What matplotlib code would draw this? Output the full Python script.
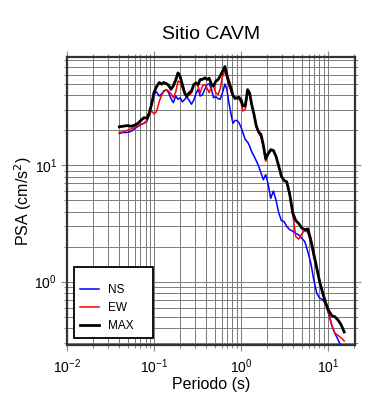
import matplotlib
matplotlib.use("Agg")
import matplotlib.pyplot as plt
from matplotlib.ticker import LogLocator, NullFormatter, FixedLocator, FixedFormatter
from matplotlib.patches import Rectangle

plt.rcParams['font.family'] = ['Liberation Sans', 'DejaVu Sans']

title = "Sitio CAVM"
xlabel = "Periodo (s)"
ylabel = "PSA (cm/s$^2$)"
series_names = ["NS", "EW", "MAX"]
series_colors = ["#0000ff", "#ff0000", "#000000"]

periods = [0.040, 0.044, 0.049, 0.055, 0.060, 0.066, 0.072, 0.077, 0.083, 0.088,
           0.094, 0.100, 0.107, 0.115, 0.123, 0.129, 0.138, 0.146, 0.157, 0.167,
           0.178, 0.189, 0.200, 0.212, 0.226, 0.238, 0.253, 0.270, 0.287, 0.305,
           0.322, 0.340, 0.361, 0.384, 0.409, 0.431, 0.459, 0.484, 0.515, 0.547,
           0.578, 0.614, 0.654, 0.689, 0.727, 0.767, 0.809, 0.853, 0.899, 0.948,
           1.000, 1.055, 1.122, 1.194, 1.259, 1.328, 1.413, 1.503, 1.599, 1.701,
           1.810, 1.925, 2.048, 2.199, 2.361, 2.535, 2.722, 2.920, 3.135, 3.366,
           3.645, 3.945, 4.272, 4.627, 5.012, 5.428, 5.878, 6.366, 6.894, 7.466,
           8.085, 8.756, 9.482, 10.27, 11.12, 12.04, 13.04, 14.12, 15.43]

psa_ns = [18.8, 19.1, 19.1, 19.6, 20.6, 21.6, 22.5, 22.9, 23.8, 26.8,
          34.5, 40.6, 42.6, 39.3, 41.1, 43.3, 44.6, 42.6, 37.3, 34.5,
          39.3, 36.8, 38.0, 35.0, 36.8, 38.5, 36.3, 33.4, 36.3, 41.4,
          44.9, 39.3, 40.3, 44.9, 49.3, 50.0, 44.9, 38.0, 38.8, 37.3,
          36.8, 42.0, 49.7, 44.9, 34.5, 27.9, 22.9, 24.2, 24.2, 23.2,
          21.3, 19.0, 16.6, 15.8, 14.6, 13.1, 12.0, 10.9, 9.8, 8.6,
          7.5, 8.3, 7.0, 5.2, 6.0, 5.0, 3.9, 3.35, 3.28, 2.98,
          2.79, 2.72, 2.60, 2.52, 2.36, 2.21, 1.81, 1.44, 1.03, 0.79,
          0.72, 0.70, 0.63, 0.52, 0.42, 0.36, 0.32, 0.28, 0.24]

psa_ew = [19.2, 19.3, 19.9, 20.6, 21.1, 21.9, 22.6, 23.0, 24.2, 27.4,
          29.2, 27.6, 28.9, 35.2, 40.3, 42.6, 44.6, 43.6, 41.1, 38.0,
          42.6, 52.9, 51.6, 45.9, 40.3, 39.0, 40.0, 41.7, 48.7, 50.6,
          47.3, 41.7, 48.0, 49.3, 45.8, 42.0, 47.3, 47.3, 41.7, 40.6,
          45.5, 57.8, 64.3, 56.3, 48.0, 43.3, 39.3, 36.8, 37.3, 36.8,
          34.5, 29.2, 30.2, 42.6, 40.6, 32.7, 26.8, 21.3, 18.8, 17.5,
          14.3, 10.8, 12.3, 13.4, 13.2, 11.8, 9.9, 8.0, 7.4, 7.1,
          5.5, 3.8, 2.44, 2.32, 2.58, 2.75, 2.65, 2.17, 1.59, 1.30,
          1.00, 0.79, 0.63, 0.53, 0.42, 0.36, 0.347, 0.33, 0.31]

psa_max = [21.4, 21.6, 21.9, 21.6, 22.1, 23.0, 24.6, 25.6, 25.3, 27.9,
           33.4, 42.0, 47.3, 51.3, 49.7, 51.3, 50.2, 49.0, 44.9, 48.0,
           54.1, 62.1, 57.8, 49.3, 41.7, 39.0, 41.7, 43.3, 49.3, 50.9,
           49.3, 54.5, 54.5, 56.3, 54.5, 55.9, 49.3, 48.0, 52.7, 54.5,
           58.5, 64.0, 70.4, 59.7, 52.0, 46.2, 39.8, 37.7, 38.0, 38.3,
           36.8, 32.3, 32.3, 44.6, 41.7, 33.4, 27.4, 21.7, 19.3, 18.4,
           14.9, 11.4, 12.5, 13.6, 13.4, 11.9, 9.8, 8.04, 7.4, 7.2,
           5.6, 3.88, 3.35, 3.15, 2.89, 2.79, 2.84, 2.28, 1.73, 1.30,
           0.98, 0.79, 0.65, 0.56, 0.51, 0.50, 0.47, 0.43, 0.37]

xticks = [0.01, 0.1, 1, 10]
xticklabels = ["$\\mathregular{10^{-2}}$", "$\\mathregular{10^{-1}}$",
               "$\\mathregular{10^{0}}$", "$\\mathregular{10^{1}}$"]
yticks = [1, 10]
yticklabels = ["$\\mathregular{10^{0}}$", "$\\mathregular{10^{1}}$"]
xlim = (0.01, 20.5)
ylim = (0.286, 85)

fig = plt.figure(figsize=(3.9, 4.0), dpi=100)
ax = fig.add_axes([67/390, 55/400, 288/390, 288/400])
ax.set_xscale('log')
ax.set_yscale('log')
ax.set_xlim(*xlim)
ax.set_ylim(*ylim)

widths = [1.1, 1.1, 2.0]
lines = []
for vals, name, col, lw in zip([psa_ns, psa_ew, psa_max], series_names, series_colors, widths):
    ln, = ax.plot(periods, vals, color=col, lw=lw, label=name, zorder=3)
    lines.append(ln)

ax.xaxis.set_major_locator(FixedLocator(xticks))
ax.xaxis.set_major_formatter(FixedFormatter(xticklabels))
ax.yaxis.set_major_locator(FixedLocator(yticks))
ax.yaxis.set_major_formatter(FixedFormatter(yticklabels))
ax.xaxis.set_minor_locator(LogLocator(base=10, subs=range(2, 10), numticks=20))
ax.yaxis.set_minor_locator(LogLocator(base=10, subs=range(2, 10), numticks=20))
ax.xaxis.set_minor_formatter(NullFormatter())
ax.yaxis.set_minor_formatter(NullFormatter())

ax.grid(True, which='both', color='#7a7a7a', lw=0.7)
ax.set_axisbelow(True)
ax.tick_params(which='both', direction='out', top=True, right=True,
               color='#8a8a8a', width=0.8, labelsize=10)
ax.tick_params(which='major', length=4.2)
ax.tick_params(which='minor', length=2.4)
ax.tick_params(axis='x', pad=5)
ax.tick_params(axis='y', pad=3)
for sp in ax.spines.values():
    sp.set_linewidth(1.6)
    sp.set_color('#333333')

ax.set_title(title, fontsize=14, pad=13)
ax.set_xlabel(xlabel, fontsize=11.5, labelpad=0.5)
ax.set_ylabel(ylabel, fontsize=11.5, labelpad=0.5)

rect = Rectangle((7/288, 7/288), 79/288, 71/288, transform=ax.transAxes,
                 facecolor='white', edgecolor='black', lw=1.3, zorder=5)
ax.add_patch(rect)
leg = ax.legend(handles=lines, loc='upper left', bbox_to_anchor=(13/288, 61/288),
                frameon=False, fontsize=8.5, handlelength=1.6, handletextpad=0.8,
                labelspacing=0.5, borderpad=0, borderaxespad=0)
leg.set_zorder(6)

fig.savefig("out.png", dpi=100)
